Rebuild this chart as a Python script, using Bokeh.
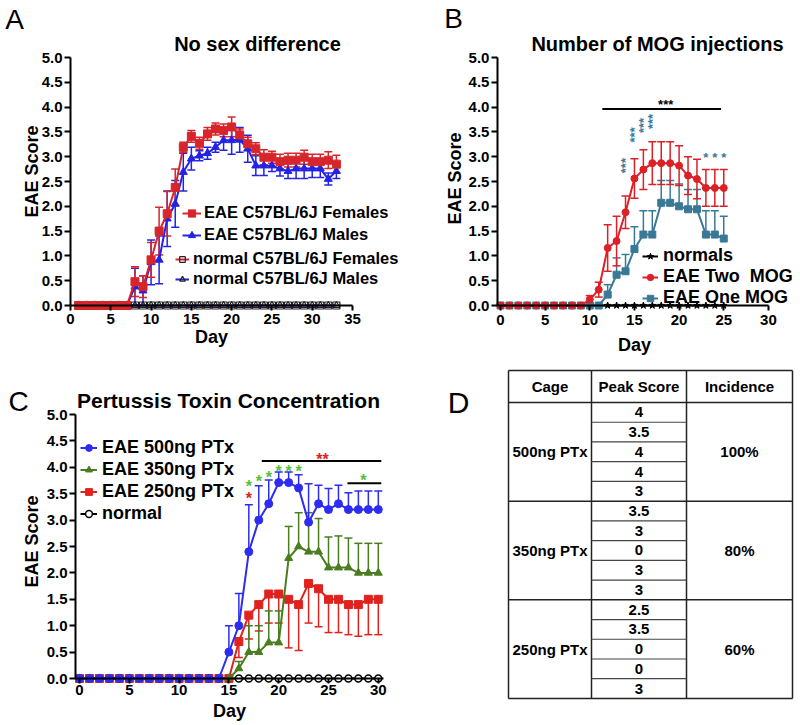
import numpy as np
from bokeh.plotting import figure
from bokeh.models import (Range1d, FixedTicker, PrintfTickFormatter, Label,
                          Legend, LegendItem, Whisker, TeeHead, ColumnDataSource)
from bokeh.layouts import column, row
from bokeh.embed import file_html
from bokeh.resources import INLINE
from bokeh.core.properties import value

FONT = "Liberation Sans"

# ---------------- Panel A : No sex difference ----------------
days_a = list(range(1, 34))
eae_females = [0, 0, 0, 0, 0, 0, 0, 0.48, 0.38, 0.92, 1.50, 1.85, 2.38, 3.19, 3.41, 3.27, 3.46,
               3.56, 3.53, 3.60, 3.44, 3.26, 3.16, 2.99, 2.99, 2.90, 2.93, 2.93, 2.99, 2.90, 2.90,
               2.93, 2.85]
eae_females_sem = [0, 0, 0, 0, 0, 0, 0, 0.30, 0.22, 0.35, 0.48, 0.45, 0.37, 0.10, 0.12, 0.12,
                   0.13, 0.12, 0.13, 0.20, 0.12, 0.13, 0.12, 0.15, 0.12, 0.15, 0.14, 0.14, 0.14,
                   0.15, 0.15, 0.17, 0.18]
eae_males = [0, 0, 0, 0, 0, 0, 0, 0.38, 0.30, 0.87, 0.92, 1.75, 2.05, 2.69, 2.96, 3.02, 3.07,
             3.19, 3.33, 3.33, 3.34, 3.16, 2.82, 2.82, 2.82, 2.76, 2.71, 2.76, 2.76, 2.76, 2.76,
             2.55, 2.71]
eae_males_sem = [0, 0, 0, 0, 0, 0, 0, 0.37, 0.30, 0.45, 0.48, 0.56, 0.47, 0.38, 0.23, 0.10,
                 0.12, 0.10, 0.20, 0.28, 0.25, 0.27, 0.20, 0.20, 0.12, 0.15, 0.15, 0.20, 0.20,
                 0.18, 0.18, 0.12, 0.15]
normal_females = [0, 0, 0, 0, 0, 0, 0, 0, 0, 0, 0, 0, 0, 0, 0, 0, 0, 0, 0, 0, 0, 0, 0, 0, 0,
                  0, 0, 0, 0, 0, 0, 0, 0]
normal_males = [0, 0, 0, 0, 0, 0, 0, 0, 0, 0, 0, 0, 0, 0, 0, 0, 0, 0, 0, 0, 0, 0, 0, 0, 0,
                0, 0, 0, 0, 0, 0, 0, 0]
labels_a = ["EAE C57BL/6J Females", "EAE C57BL/6J Males",
            "normal C57BL/6J Females", "normal C57BL/6J Males"]
xticks_a = [0, 5, 10, 15, 20, 25, 30, 35]

# ---------------- Panel B : Number of MOG injections ----------------
days_b = list(range(0, 26))
two_mog = [0, 0, 0, 0, 0, 0, 0, 0, 0, 0, 0.12, 0.32, 1.16, 1.30, 1.88, 2.56, 2.74, 2.87, 2.87,
           2.87, 2.82, 2.62, 2.55, 2.37, 2.37, 2.37]
two_mog_sem = [0, 0, 0, 0, 0, 0, 0, 0, 0, 0, 0.08, 0.15, 0.47, 0.50, 0.33, 0.40, 0.40, 0.43,
               0.43, 0.43, 0.40, 0.38, 0.40, 0.37, 0.37, 0.37]
one_mog = [0, 0, 0, 0, 0, 0, 0, 0, 0, 0, 0, 0, 0.22, 0.62, 0.69, 1.14, 1.43, 1.43, 2.07, 2.07,
           2.00, 1.94, 1.94, 1.43, 1.43, 1.35]
one_mog_sem = [0, 0, 0, 0, 0, 0, 0, 0, 0, 0, 0, 0, 0.20, 0.34, 0.34, 0.45, 0.48, 0.48, 0.45,
               0.45, 0.45, 0.40, 0.40, 0.48, 0.48, 0.45]
normals_b = [0, 0, 0, 0, 0, 0, 0, 0, 0, 0, 0, 0, 0, 0, 0, 0, 0, 0, 0, 0, 0, 0, 0, 0, 0, 0]
labels_b = ["normals", "EAE Two  MOG", "EAE One MOG"]
xticks_b = [0, 5, 10, 15, 20, 25, 30]
sig_b_bar = dict(x0=[11.4], x1=[24.7], y=[3.96])
sig_b_text = dict(x=[18.5], y=[4.12], text=["***"])
sig_b_stack = dict(x=[14, 15, 16, 17], y=[2.82, 3.44, 3.63, 3.71], text=["***", "***", "***", "***"])
sig_b_row = dict(x=[23, 24, 25], y=[3.04, 3.04, 3.04], text=["*", "*", "*"])

# ---------------- Panel C : Pertussis Toxin Concentration ----------------
days_c = list(range(0, 31))
ptx500 = [0, 0, 0, 0, 0, 0, 0, 0, 0, 0, 0, 0, 0, 0, 0, 0.50, 1.00, 2.40, 3.00, 3.31, 3.71,
          3.71, 3.61, 2.96, 3.31, 3.20, 3.31, 3.20, 3.20, 3.20, 3.20]
ptx500_sem = [0, 0, 0, 0, 0, 0, 0, 0, 0, 0, 0, 0, 0, 0, 0, 0.50, 0.61, 0.89, 0.65, 0.45, 0.20,
              0.20, 0.25, 0.73, 0.35, 0.40, 0.35, 0.32, 0.35, 0.35, 0.35]
ptx350 = [0, 0, 0, 0, 0, 0, 0, 0, 0, 0, 0, 0, 0, 0, 0, 0, 0.19, 0.50, 0.50, 0.68, 0.68, 2.28,
          2.50, 2.40, 2.40, 2.10, 2.10, 2.10, 2.00, 2.00, 2.00]
ptx350_sem = [0, 0, 0, 0, 0, 0, 0, 0, 0, 0, 0, 0, 0, 0, 0, 0, 0.13, 0.50, 0.50, 0.60, 0.60,
              0.60, 0.64, 0.74, 0.63, 0.58, 0.60, 0.56, 0.56, 0.56, 0.56]
ptx250 = [0, 0, 0, 0, 0, 0, 0, 0, 0, 0, 0, 0, 0, 0, 0, 0, 0.70, 1.20, 1.40, 1.60, 1.60, 1.50,
          1.40, 1.80, 1.70, 1.50, 1.50, 1.40, 1.40, 1.50, 1.50]
ptx250_sem = [0, 0, 0, 0, 0, 0, 0, 0, 0, 0, 0, 0, 0, 0, 0, 0, 0.30, 0.45, 0.50, 0.55, 0.55,
              0.92, 0.87, 0.75, 0.72, 0.63, 0.63, 0.57, 0.60, 0.67, 0.67]
normal_c = [0, 0, 0, 0, 0, 0, 0, 0, 0, 0, 0, 0, 0, 0, 0, 0, 0, 0, 0, 0, 0, 0, 0, 0, 0, 0, 0,
            0, 0, 0, 0]
labels_c = ["EAE 500ng PTx", "EAE 350ng PTx", "EAE 250ng PTx", "normal"]
xticks_c = [0, 5, 10, 15, 20, 25, 30]
sig_c_bars = dict(x0=[18.3, 26.9], x1=[30.3, 30.3], y=[4.12, 3.70])
sig_c_green = dict(x=[17, 18, 19, 20, 21, 22, 28.5], y=[3.71, 3.80, 3.88, 4.00, 4.00, 4.00, 3.83],
                   text=["*", "*", "*", "*", "*", "*", "*"])
sig_c_red = dict(x=[17, 24.4], y=[3.49, 4.23], text=["*", "**"])

# ---------------- Panel D : table ----------------
headers_d = ["Cage", "Peak Score", "Incidence"]
cages_d = ["500ng PTx", "350ng PTx", "250ng PTx"]
peak_scores_d = ["4", "3.5", "4", "4", "3",
                 "3.5", "3", "0", "3", "3",
                 "2.5", "3.5", "0", "0", "3"]
incidence_d = ["100%", "80%", "60%"]

yticks = [0, 0.5, 1.0, 1.5, 2.0, 2.5, 3.0, 3.5, 4.0, 4.5, 5.0]

A_RED, A_BLUE = "#d7262b", "#2323e6"
B_RED, B_TEAL = "#dd1f26", "#3a7897"
C_BLUE, C_GREEN, C_RED = "#2c2cf2", "#4a7d20", "#e0221f"
STAR_GREEN = "#52c234"


# ---------- geometry helpers (canvas pixels -> data) ----------
def geom(W, H, ox, oy, sx, sy):
    return dict(W=W, H=H, x0=-ox / sx, x1=(W - ox) / sx, y0=-(H - oy) / sy, y1=oy / sy,
                sx=sx, sy=sy)


def to_data(g, cx, cy):
    return g["x0"] + cx / g["sx"], g["y1"] - cy / g["sy"]


def make_fig(g):
    p = figure(width=g["W"], height=g["H"], x_range=Range1d(g["x0"], g["x1"]),
               y_range=Range1d(g["y0"], g["y1"]), min_border=0, output_backend="svg",
               toolbar_location=None, title=None)
    p.xgrid.visible = False
    p.ygrid.visible = False
    p.outline_line_color = None
    return p


def style_axes(p, xticks, xbounds, xtick_standoff=3, xtick_size="15px"):
    ya = p.yaxis[0]
    ya.fixed_location = xbounds[0]
    ya.ticker = FixedTicker(ticks=yticks)
    ya.formatter = PrintfTickFormatter(format="%.1f")
    ya.bounds = (0, 5)
    ya.axis_line_width = 2
    ya.major_tick_line_width = 2
    ya.major_tick_out = 6
    ya.major_tick_in = 0
    ya.minor_tick_line_color = None
    ya.major_label_standoff = 2
    ya.major_label_text_font = FONT
    ya.major_label_text_font_style = "bold"
    ya.major_label_text_font_size = "15px"
    ya.major_label_text_color = "black"
    xa = p.xaxis[0]
    xa.fixed_location = 0
    xa.ticker = FixedTicker(ticks=xticks)
    xa.bounds = xbounds
    xa.axis_line_width = 2
    xa.major_tick_line_width = 2
    xa.major_tick_in = 0
    xa.major_tick_out = 5
    xa.minor_tick_line_color = None
    xa.major_label_standoff = xtick_standoff
    xa.major_label_text_font = FONT
    xa.major_label_text_font_style = "bold"
    xa.major_label_text_font_size = xtick_size
    xa.major_label_text_color = "black"


def add_text(p, g, cx, cy, text, size, bold=True, angle=0.0):
    x, y = to_data(g, cx, cy)
    p.add_layout(Label(x=x, y=y, text=text, angle=angle, text_font=FONT, text_font_size=size,
                       text_font_style="bold" if bold else "normal", text_align="center",
                       text_baseline="middle", text_color="black"))


def add_err(p, x, y, err, color, up=True, down=True, cap=8, lw=1.5):
    xs, lo, hi = [], [], []
    for xi, yi, ei in zip(x, y, err):
        if ei > 0:
            xs.append(xi)
            hi.append(yi + ei if up else yi)
            lo.append(yi - ei if down else yi)
    src = ColumnDataSource(dict(base=xs, lower=lo, upper=hi))
    w = Whisker(source=src, base="base", lower="lower", upper="upper", dimension="height",
                line_color=color, line_width=lw,
                upper_head=TeeHead(size=cap, line_color=color, line_width=lw) if up else None,
                lower_head=TeeHead(size=cap, line_color=color, line_width=lw) if down else None)
    p.add_layout(w)


def series(p, x, y, line_color, marker, size, fill_color, mline_color, mlw=1.0, lw=2):
    l = p.line(x, y, line_color=line_color, line_width=lw)
    s = p.scatter(x, y, marker=marker, size=size, fill_color=fill_color,
                  line_color=mline_color, line_width=mlw)
    return [l, s]


def add_legend(p, items, loc, font_size, gw, gh, spacing, standoff):
    leg = Legend(items=[LegendItem(label=lab, renderers=rs) for lab, rs in items],
                 location=loc, orientation="vertical", padding=0, margin=0, spacing=spacing,
                 glyph_width=gw, glyph_height=gh, label_height=gh, label_standoff=standoff,
                 label_text_font=FONT, label_text_font_style="bold",
                 label_text_font_size=font_size, label_text_color="black",
                 border_line_color=None, background_fill_alpha=0)
    p.add_layout(leg)


def stars(p, data, color, size, angle=0.0, y_offset=3):
    p.text(x="x", y="y", text="text", source=ColumnDataSource(data), angle=angle,
           text_font=value(FONT), text_font_style="bold", text_font_size=size,
           text_color=color, text_align="center", text_baseline="middle", y_offset=y_offset)


H_TOP, H_BOT = 355, 370

# ================= Panel A =================
gA = geom(400, H_TOP, 70, 305, 8.057, 49.6)
pA = make_fig(gA)
style_axes(pA, xticks_a, (0, 35), xtick_standoff=3)
rnf = series(pA, days_a, normal_females, A_RED, "square", 7, None, "#222222", 1.2)
rnm = series(pA, days_a, normal_males, A_BLUE, "triangle", 7, None, "#222222", 1.2)
add_err(pA, days_a, eae_males, eae_males_sem, A_BLUE)
add_err(pA, days_a, eae_females, eae_females_sem, A_RED)
rm = series(pA, days_a, eae_males, A_BLUE, "triangle", 8, A_BLUE, A_BLUE)
rf = series(pA, days_a, eae_females, A_RED, "square", 8, A_RED, A_RED)
add_legend(pA, list(zip(labels_a[:2], [rf, rm])), (182, 111), "16.5px", 19, 18, 3, 3)
add_legend(pA, list(zip(labels_a[2:], [rnf, rnm])), (175, 67), "16.5px", 14, 18, 1, 4)
add_text(pA, gA, 257, 43, "No sex difference", "20px")
add_text(pA, gA, 14, 19, "A", "28px", bold=False)
add_text(pA, gA, 31, 171, "EAE Score", "18px", angle=np.pi / 2)
add_text(pA, gA, 211, 336, "Day", "18px")

# ================= Panel B =================
gB = geom(400, H_TOP, 100, 305, 8.93, 49.6)
pB = make_fig(gB)
style_axes(pB, xticks_b, (-0.34, 30), xtick_standoff=4)
rnb = series(pB, days_b, normals_b, "black", "star", 7, "black", "black")
add_err(pB, days_b, one_mog, one_mog_sem, B_TEAL, up=True, down=False)
add_err(pB, days_b, two_mog, two_mog_sem, B_RED)
r1 = series(pB, days_b, one_mog, B_TEAL, "square", 7, B_TEAL, B_TEAL)
r2 = series(pB, days_b, two_mog, B_RED, "circle", 7, B_RED, B_RED)
add_legend(pB, list(zip(labels_b, [rnb, r2, r1])), (242, 47), "18px", 16, 18, 0, 5)
pB.segment(x0="x0", x1="x1", y0="y", y1="y", source=ColumnDataSource(sig_b_bar),
           line_color="black", line_width=2)
stars(pB, sig_b_text, "black", "13px")
stars(pB, sig_b_stack, B_TEAL, "13px", angle=np.pi / 2, y_offset=0)
stars(pB, sig_b_row, B_TEAL, "13px")
add_text(pB, gB, 257, 43, "Number of MOG injections", "20px")
add_text(pB, gB, 53, 18, "B", "28px", bold=False)
add_text(pB, gB, 54.5, 178, "EAE Score", "18px", angle=np.pi / 2)
add_text(pB, gB, 234, 344, "Day", "18px")

# ================= Panel C =================
gC = geom(400, H_BOT, 79, 323, 9.96, 52.8)
pC = make_fig(gC)
style_axes(pC, xticks_c, (-0.4, 30.5), xtick_standoff=1)
rnc = series(pC, days_c, normal_c, "black", "circle", 7, "white", "black", 1.5)
add_err(pC, days_c, ptx250, ptx250_sem, C_RED, up=False, down=True)
add_err(pC, days_c, ptx350, ptx350_sem, C_GREEN, up=True, down=False)
add_err(pC, days_c, ptx500, ptx500_sem, C_BLUE, up=True, down=False)
r250 = series(pC, days_c, ptx250, C_RED, "square", 8, C_RED, C_RED)
r350 = series(pC, days_c, ptx350, C_GREEN, "triangle", 8, C_GREEN, C_GREEN)
r500 = series(pC, days_c, ptx500, C_BLUE, "circle", 8, C_BLUE, C_BLUE)
add_legend(pC, list(zip(labels_c, [r500, r350, r250, rnc])), (80, 201), "18px", 17, 21, 1, 5)
pC.segment(x0="x0", x1="x1", y0="y", y1="y", source=ColumnDataSource(sig_c_bars),
           line_color="black", line_width=2)
stars(pC, sig_c_green, STAR_GREEN, "16px", y_offset=4)
stars(pC, sig_c_red, C_RED, "16px", y_offset=4)
add_text(pC, gC, 228, 45, "Pertussis Toxin Concentration", "21px")
add_text(pC, gC, 18, 46, "C", "28px", bold=False)
add_text(pC, gC, 31.5, 186, "EAE Score", "18px", angle=np.pi / 2)
add_text(pC, gC, 229, 355, "Day", "18px")

# ================= Panel D (table) =================
WD, HD = 400, H_BOT
pD = figure(width=WD, height=HD, x_range=Range1d(0, WD), y_range=Range1d(HD, 0),
            x_axis_type=None, y_axis_type=None, min_border=0, output_backend="svg",
            toolbar_location=None, title=None)
pD.outline_line_color = None
pD.grid.visible = False

col_x = [108, 191, 286, 392]
tbl_top, tbl_head, row_h = 15, 47, 19.73
n_rows = len(peak_scores_d)
n_per = n_rows // len(cages_d)
tbl_bottom = tbl_head + n_rows * row_h

hx0, hx1, hy = [], [], []
for yy in [tbl_top, tbl_head] + [tbl_head + g * n_per * row_h for g in range(1, len(cages_d) + 1)]:
    hx0.append(col_x[0]); hx1.append(col_x[-1]); hy.append(yy)
pD.segment(x0=hx0, x1=hx1, y0=hy, y1=hy, line_color="#222222", line_width=1.5)
pD.segment(x0=col_x, x1=col_x, y0=[tbl_top] * 4, y1=[tbl_bottom] * 4,
           line_color="#222222", line_width=1.5)
ix0, ix1, iy = [], [], []
for i in range(1, n_rows):
    if i % n_per != 0:
        ix0.append(col_x[1]); ix1.append(col_x[2]); iy.append(tbl_head + i * row_h)
pD.segment(x0=ix0, x1=ix1, y0=iy, y1=iy, line_color="#444444", line_width=1.2)

centers = [(col_x[i] + col_x[i + 1]) / 2 for i in range(3)]
txt_x = list(centers)
txt_y = [(tbl_top + tbl_head) / 2] * 3
txt = list(headers_d)
for g, (c, inc) in enumerate(zip(cages_d, incidence_d)):
    yc = tbl_head + (g * n_per + n_per / 2) * row_h
    txt_x += [centers[0], centers[2]]
    txt_y += [yc, yc]
    txt += [c, inc]
for i, s in enumerate(peak_scores_d):
    txt_x.append(centers[1])
    txt_y.append(tbl_head + (i + 0.5) * row_h)
    txt.append(s)
pD.text(x=txt_x, y=txt_y, text=txt, text_font=value(FONT), text_font_style="bold",
        text_font_size="15px", text_color="black", text_align="center",
        text_baseline="middle")
pD.text(x=[58], y=[47], text=["D"], text_font=value(FONT), text_font_size="30px",
        text_color="black", text_align="center", text_baseline="middle")

layout = column(row(pA, pB), row(pC, pD))
open("out.html", "w").write(file_html(layout, INLINE))
